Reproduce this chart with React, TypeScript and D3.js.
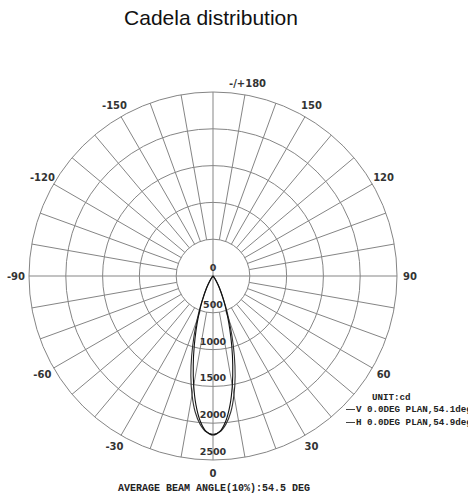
import React from "react";
import * as d3 from "d3";

const width = 468;
const height = 497;
const cx = 213;
const cy = 276;
const outerR = 184;

// half-plane angles (deg), mirrored to -angle for the other side
const angles = [0, 2.5, 5, 7.5, 10, 12.5, 15, 17.5, 20, 22.5, 25, 27.5, 30, 35, 40, 50, 60, 90];
const vPlan = [2160, 2115, 1980, 1770, 1510, 1240, 985, 760, 575, 420, 292, 200, 130, 50, 15, 3, 0, 0];
const hPlan = [2150, 2120, 2020, 1860, 1640, 1390, 1120, 860, 630, 445, 305, 207, 135, 52, 16, 3, 0, 0];

const ringTicks = [500, 1000, 1500, 2000, 2500];
const angleTicks = [-150, -120, -90, -60, -30, 0, 30, 60, 90, 120, 150, 180];
const legendLabels = ["V 0.0DEG PLAN,54.1deg", "H 0.0DEG PLAN,54.9deg"];

const r = d3.scaleLinear().domain([0, 2500]).range([0, outerR]);
const rad = (deg: number) => (deg * Math.PI) / 180;

// 0 deg points down, +90 to the right
const px = (deg: number, rr: number) => cx + rr * Math.sin(rad(deg));
const py = (deg: number, rr: number) => cy + rr * Math.cos(rad(deg));

function lobe(values: number[]) {
  const pts: [number, number][] = [];
  for (let i = angles.length - 1; i > 0; i--) pts.push([-angles[i], values[i]]);
  for (let i = 0; i < angles.length; i++) pts.push([angles[i], values[i]]);
  const line = d3
    .lineRadial<[number, number]>()
    .angle((d) => Math.PI - rad(d[0]))
    .radius((d) => r(d[1]))
    .curve(d3.curveCatmullRom);
  return line(pts) || "";
}

export default function App() {
  const grid = "#858585";
  const inner = r(ringTicks[0]);
  const spokes = d3.range(-180, 180, 10);
  const mono = "'Liberation Mono', monospace";
  const sans = "'DejaVu Sans', sans-serif";

  return (
    <div style={{ position: "absolute", left: 0, top: 0 }}>
      <svg width={width} height={height} style={{ display: "block", background: "#fff" }}>
        <text x={211} y={25} textAnchor="middle" fontFamily="'Liberation Sans', Arial, sans-serif" fontSize={21} fill="#111">
          Cadela distribution
        </text>

        {/* rings */}
        {ringTicks.map((t) => (
          <circle key={t} cx={cx} cy={cy} r={r(t)} fill="none" stroke={grid} strokeWidth={1} />
        ))}

        {/* spokes */}
        {spokes.map((a) => {
          const through = a % 90 === 0;
          const r0 = through ? 0 : inner;
          return (
            <line
              key={a}
              x1={px(a, r0)}
              y1={py(a, r0)}
              x2={px(a, outerR)}
              y2={py(a, outerR)}
              stroke={grid}
              strokeWidth={1}
            />
          );
        })}

        {/* angle labels */}
        {angleTicks.map((a) => {
          const lr = 197;
          if (a === 180) {
            return (
              <text key={a} x={229} y={87} fontFamily={sans} fontWeight="bold" fontSize={10} fill="#333">
                -/+180
              </text>
            );
          }
          return (
            <text
              key={a}
              x={px(a, lr)}
              y={py(a, lr) + 3.5}
              textAnchor="middle"
              fontFamily={sans}
              fontWeight="bold"
              fontSize={10}
              fill="#333"
            >
              {a}
            </text>
          );
        })}

        {/* radial labels */}
        <text x={cx} y={cy - 5} textAnchor="middle" fontFamily={sans} fontWeight="bold" fontSize={9.5} fill="#333">
          0
        </text>
        {ringTicks.map((t) => (
          <text
            key={t}
            x={cx}
            y={cy + r(t) - 5}
            textAnchor="middle"
            fontFamily={sans}
            fontWeight="bold"
            fontSize={9.5}
            fill="#333"
          >
            {t}
          </text>
        ))}

        {/* candela curves */}
        <g transform={`translate(${cx},${cy})`}>
          <path d={lobe(hPlan)} fill="none" stroke="#333" strokeWidth={1.1} />
          <path d={lobe(vPlan)} fill="none" stroke="#111" strokeWidth={1.1} />
        </g>

        {/* legend */}
        <text x={372} y={400} fontFamily={mono} fontWeight="bold" fontSize={9.2} fill="#222">
          UNIT:cd
        </text>
        {legendLabels.map((s, i) => (
          <g key={s} transform={`translate(0,${412 + i * 13})`}>
            <line x1={346} x2={355} y1={-2.5} y2={-2.5} stroke="#444" strokeWidth={1} />
            <text x={356} y={0} fontFamily={mono} fontWeight="bold" fontSize={9.2} fill="#222">
              {s}
            </text>
          </g>
        ))}

        <text x={214} y={491} textAnchor="middle" fontFamily={mono} fontWeight="bold" fontSize={10} fill="#222">
          AVERAGE BEAM ANGLE(10%):54.5 DEG
        </text>
      </svg>
    </div>
  );
}
